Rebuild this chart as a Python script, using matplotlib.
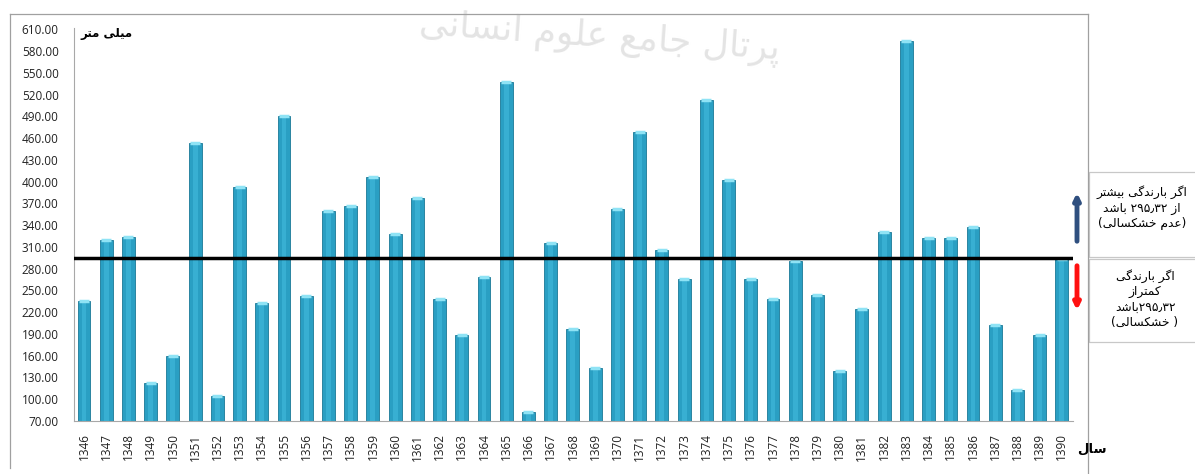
import re
import numpy as np
import matplotlib
matplotlib.use('Agg')
import matplotlib.pyplot as plt
from matplotlib.patches import Rectangle, FancyArrowPatch
from matplotlib.lines import Line2D

years = [str(y) for y in range(1346, 1391)]
rain_mm = [236, 319, 324, 123, 160, 453, 104, 393, 233, 491, 243, 359, 367, 406, 328,
           377, 238, 189, 268, 537, 83, 316, 197, 143, 362, 468, 306, 266, 513, 403,
           266, 238, 291, 244, 139, 225, 331, 594, 322, 322, 338, 203, 113, 188, 294]
mean_rain = 295.32
y_ticks = list(range(70, 611, 30))

# persian letters -> (isolated, final, initial, medial)
FORMS = {
    'ا': ('\uFE8D', '\uFE8E', None, None),
    'ب': ('\uFE8F', '\uFE90', '\uFE91', '\uFE92'),
    'پ': ('\uFB56', '\uFB57', '\uFB58', '\uFB59'),
    'ت': ('\uFE95', '\uFE96', '\uFE97', '\uFE98'),
    'ج': ('\uFE9D', '\uFE9E', '\uFE9F', '\uFEA0'),
    'خ': ('\uFEA5', '\uFEA6', '\uFEA7', '\uFEA8'),
    'د': ('\uFEA9', '\uFEAA', None, None),
    'ر': ('\uFEAD', '\uFEAE', None, None),
    'ز': ('\uFEAF', '\uFEB0', None, None),
    'س': ('\uFEB1', '\uFEB2', '\uFEB3', '\uFEB4'),
    'ش': ('\uFEB5', '\uFEB6', '\uFEB7', '\uFEB8'),
    'ع': ('\uFEC9', '\uFECA', '\uFECB', '\uFECC'),
    'ل': ('\uFEDD', '\uFEDE', '\uFEDF', '\uFEE0'),
    'م': ('\uFEE1', '\uFEE2', '\uFEE3', '\uFEE4'),
    'ن': ('\uFEE5', '\uFEE6', '\uFEE7', '\uFEE8'),
    'و': ('\uFEED', '\uFEEE', None, None),
    'ک': ('\uFB8E', '\uFB8F', '\uFB90', '\uFB91'),
    'گ': ('\uFB92', '\uFB93', '\uFB94', '\uFB95'),
    'ی': ('\uFBFC', '\uFBFD', '\uFBFE', '\uFBFF'),
}
MIRROR = {'(': ')', ')': '('}


def fa_line(text):
    out = []
    for i, ch in enumerate(text):
        if ch not in FORMS:
            out.append(ch)
            continue
        iso, fin, ini, med = FORMS[ch]
        prev = text[i - 1] if i > 0 else ''
        nxt = text[i + 1] if i < len(text) - 1 else ''
        jp = prev in FORMS and FORMS[prev][2] is not None
        jn = nxt in FORMS and ini is not None
        if jp and jn:
            out.append(med)
        elif jp:
            out.append(fin)
        elif jn:
            out.append(ini)
        else:
            out.append(iso)
    runs = re.findall(r'[۰-۹0-9٫.]+|[^۰-۹0-9٫.]', ''.join(out))
    return ''.join(MIRROR.get(r, r) for r in reversed(runs))


def fa(text):
    return '\n'.join(fa_line(l) for l in text.split('\n'))


W, H = 1195, 474


def fx(x):
    return x / W


def fy(y):
    return 1 - y / H


fig = plt.figure(figsize=(W / 100, H / 100), dpi=100)
ax = fig.add_axes([fx(74), fy(421), fx(1073) - fx(74), fy(28) - fy(421)])

x = np.arange(len(years))
ax.bar(x, rain_mm, width=0.58, bottom=0, color='#2a9fc3', edgecolor='#1a7896', linewidth=0.6, zorder=2)
# lighter center highlight for the cylinder look
ax.bar(x, rain_mm, width=0.22, color='#45bde0', linewidth=0, zorder=3, alpha=0.55)
ax.scatter(x, rain_mm, marker='_', s=55, color='#8fe3f5', linewidths=2.5, zorder=4)

ax.axhline(mean_rain, color='black', linewidth=2.5, zorder=5)

ax.set_xlim(-0.45, len(years) - 0.5)
ax.set_ylim(70, 612)
ax.set_yticks(y_ticks)
ax.set_yticklabels([f'{v:.2f}' for v in y_ticks], fontsize=8.5, color='#222222', family='Open Sans')
ax.set_xticks(x)
ax.set_xticklabels(years, rotation=90, fontsize=8.5, color='#222222', family='Open Sans')
ax.tick_params(axis='both', length=0)
ax.tick_params(axis='y', pad=11)
ax.tick_params(axis='x', pad=9)
for s in ['top', 'right']:
    ax.spines[s].set_visible(False)
ax.spines['left'].set_color('#a8a8a8')
ax.spines['bottom'].set_color('#a8a8a8')

# unit and axis labels
fig.text(fx(80), fy(34), fa('میلی متر'), fontsize=8.5, fontweight='bold', ha='left', va='center',
         family='DejaVu Sans')
fig.text(fx(1077), fy(449), fa('سال'), fontsize=9.5, fontweight='bold', ha='left', va='center',
         family='DejaVu Sans')

# faint watermark
fig.text(fx(600), fy(38), fa('پرتال جامع علوم انسانی'), fontsize=26, color='#e4e4e4',
         ha='center', va='center', rotation=-4, zorder=0, family='DejaVu Sans')

# outer frame
frame_c = '#a0a0a0'
fig.add_artist(Line2D([fx(10), fx(1088)], [fy(14), fy(14)], color=frame_c, linewidth=0.9))
fig.add_artist(Line2D([fx(10), fx(10)], [fy(14), fy(468)], color=frame_c, linewidth=0.9))
fig.add_artist(Line2D([fx(1088), fx(1088)], [fy(14), fy(474)], color=frame_c, linewidth=0.9))

# legend boxes on the right
box_c = '#c8c8c8'
fig.add_artist(Rectangle((fx(1089), fy(257)), fx(1200) - fx(1089), fy(172) - fy(257),
                         fill=False, edgecolor=box_c, linewidth=0.9))
fig.add_artist(Rectangle((fx(1089), fy(342)), fx(1200) - fx(1089), fy(259) - fy(342),
                         fill=False, edgecolor=box_c, linewidth=0.9))
fig.text(fx(1142), fy(208), fa('اگر بارندگی بیشتر\nاز ۲۹۵٫۳۲ باشد\n(عدم خشکسالی)'),
         fontsize=8.8, ha='center', va='center', linespacing=1.25, family='DejaVu Sans')
fig.text(fx(1145), fy(299), fa('اگر بارندگی\nکمتراز\n۲۹۵٫۳۲باشد\n( خشکسالی)'),
         fontsize=8.8, ha='center', va='center', linespacing=1.25, family='DejaVu Sans')

# arrows
fig.add_artist(FancyArrowPatch((fx(1077), fy(244)), (fx(1077), fy(190)), arrowstyle='-|>',
                               mutation_scale=9, color='#2f4f7f', linewidth=3.5))
fig.add_artist(FancyArrowPatch((fx(1077), fy(263)), (fx(1077), fy(313)), arrowstyle='-|>',
                               mutation_scale=9, color='#ff1010', linewidth=3.5))

fig.savefig('out.png', dpi=100)
